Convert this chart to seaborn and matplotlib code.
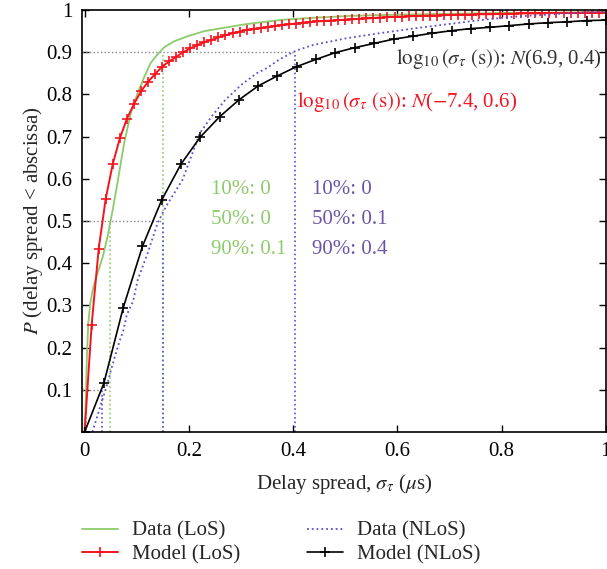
import matplotlib
matplotlib.use('Agg')
import matplotlib.pyplot as plt
import seaborn as sns

model_los_x = [0.0, 0.0135, 0.027, 0.0405, 0.054, 0.0676, 0.0811, 0.0946, 0.1081, 0.1216,
               0.1351, 0.1486, 0.1622, 0.1757, 0.1892, 0.2027, 0.2162, 0.2297, 0.2432, 0.2568,
               0.2703, 0.2838, 0.2973, 0.3108, 0.3243, 0.3378, 0.3514, 0.3649, 0.3784, 0.3919,
               0.4054, 0.4189, 0.4324, 0.4459, 0.4595, 0.473, 0.4865, 0.5, 0.5135, 0.527,
               0.5405, 0.5541, 0.5676, 0.5811, 0.5946, 0.6081, 0.6216, 0.6351, 0.6486, 0.6622,
               0.6757, 0.6892, 0.7027, 0.7162, 0.7297, 0.7432, 0.7568, 0.7703, 0.7838, 0.7973,
               0.8108, 0.8243, 0.8378, 0.8514, 0.8649, 0.8784, 0.8919, 0.9054, 0.9189, 0.9324,
               0.9459, 0.9595, 0.973, 0.9865, 1.0]
model_los_y = [0.0, 0.254, 0.434, 0.553, 0.635, 0.696, 0.742, 0.777, 0.807, 0.830,
               0.848, 0.866, 0.878, 0.889, 0.900, 0.909, 0.917, 0.924, 0.929, 0.935,
               0.940, 0.945, 0.949, 0.953, 0.955, 0.957, 0.959, 0.962, 0.964, 0.966,
               0.968, 0.970, 0.971, 0.973, 0.974, 0.975, 0.976, 0.977, 0.978, 0.979,
               0.980, 0.981, 0.982, 0.983, 0.984, 0.984, 0.985, 0.986, 0.986, 0.987,
               0.987, 0.988, 0.988, 0.989, 0.989, 0.989, 0.990, 0.990, 0.990, 0.991,
               0.991, 0.991, 0.992, 0.992, 0.992, 0.992, 0.993, 0.993, 0.993, 0.993,
               0.993, 0.994, 0.994, 0.994, 0.994]

# Model (NLoS)
model_nlos_x = [0.0, 0.037, 0.074, 0.111, 0.148, 0.185, 0.222, 0.259, 0.296, 0.333,
                0.370, 0.407, 0.444, 0.481, 0.519, 0.556, 0.593, 0.630, 0.667, 0.704,
                0.741, 0.778, 0.815, 0.852, 0.889, 0.926, 0.963, 1.0]
model_nlos_y = [0.0, 0.116, 0.294, 0.440, 0.550, 0.635, 0.699, 0.747, 0.787, 0.820,
                0.844, 0.866, 0.883, 0.899, 0.911, 0.921, 0.931, 0.938, 0.945, 0.951,
                0.956, 0.959, 0.963, 0.967, 0.970, 0.972, 0.975, 0.976]

# Data (LoS) - empirical CDF
data_los_x = [0.0, 0.0025, 0.0044, 0.007, 0.011, 0.017, 0.025, 0.035, 0.044, 0.054,
              0.063, 0.076, 0.089, 0.102, 0.115, 0.127, 0.140, 0.153, 0.172, 0.198,
              0.230, 0.268, 0.307, 0.332, 0.381, 0.445, 0.509, 0.6, 0.7, 0.8, 0.9, 1.0]
data_los_y = [0.0, 0.085, 0.18, 0.258, 0.306, 0.345, 0.377, 0.416, 0.463, 0.527,
              0.59, 0.686, 0.757, 0.804, 0.843, 0.875, 0.895, 0.912, 0.926, 0.938,
              0.950, 0.958, 0.966, 0.970, 0.977, 0.982, 0.986, 0.989, 0.991, 0.993, 0.994, 0.995]

# Data (NLoS) - empirical CDF
data_nlos_x = [0.015, 0.025, 0.035, 0.045, 0.051, 0.061, 0.067, 0.074, 0.081, 0.093,
               0.102, 0.121, 0.140, 0.156, 0.188, 0.207, 0.221, 0.245, 0.27, 0.30,
               0.33, 0.349, 0.374, 0.406, 0.438, 0.470, 0.502, 0.566, 0.630, 0.694,
               0.758, 0.822, 0.886, 0.950, 1.0]
data_nlos_y = [0.0, 0.04, 0.08, 0.120, 0.148, 0.191, 0.215, 0.239, 0.278, 0.310,
               0.361, 0.424, 0.495, 0.534, 0.598, 0.661, 0.708, 0.75, 0.787, 0.822,
               0.850, 0.862, 0.883, 0.904, 0.917, 0.925, 0.933, 0.945, 0.956, 0.966,
               0.976, 0.984, 0.989, 0.994, 0.996]

# percentiles (10%, 50%, 90%)
levels = [0.1, 0.5, 0.9]
los_pct = [0.002, 0.049, 0.150]
nlos_pct = [0.034, 0.150, 0.403]
los_pct_txt = ['0', '0', '0.1']
nlos_pct_txt = ['0', '0.1', '0.4']

GREEN = '#8ccb6a'
RED = '#f5141e'
BLUE = '#5b4fd0'
PURPLE = '#6b54a8'
FS = 15

sns.set_theme(style='ticks')
plt.rcParams['font.family'] = ['Liberation Serif', 'DejaVu Serif']
plt.rcParams['mathtext.fontset'] = 'stix'
plt.rcParams['font.size'] = FS

fig = plt.figure(figsize=(6.07, 5.69), dpi=100)
ax = fig.add_axes([0.1351, 0.2408, 0.8629, 0.7416])

# percentile guide lines
ax.hlines(levels, -0.005, nlos_pct, colors='#888888', linestyles=':', linewidth=1)
ax.vlines(los_pct, 0, levels, colors=GREEN, linestyles=':', linewidth=1.2)
ax.vlines(nlos_pct, 0, levels, colors=BLUE, linestyles=':', linewidth=1.2)

sns.lineplot(x=data_los_x, y=data_los_y, ax=ax, color=GREEN, linewidth=1.3,
             label='Data (LoS)')
sns.lineplot(x=model_los_x, y=model_los_y, ax=ax, color=RED, linewidth=1.4,
             marker='+', markersize=7, markeredgewidth=1.2, markeredgecolor=RED,
             label='Model (LoS)')
sns.lineplot(x=data_nlos_x, y=data_nlos_y, ax=ax, color=BLUE, linewidth=1.3,
             linestyle=':', label='Data (NLoS)')
sns.lineplot(x=model_nlos_x, y=model_nlos_y, ax=ax, color='black', linewidth=1.2,
             marker='+', markersize=7, markeredgewidth=1.2, markeredgecolor='black',
             label='Model (NLoS)')

# percentile texts
for i, lv in enumerate(['10%', '50%', '90%']):
    ty = 0.574 - i * 0.071
    ax.text(0.243, ty, f'{lv}: {los_pct_txt[i]}', color=GREEN, fontsize=FS, va='center')
    ax.text(0.437, ty, f'{lv}: {nlos_pct_txt[i]}', color=PURPLE, fontsize=FS, va='center')

ax.text(0.993, 0.885, r'$\log_{10}(\sigma_\tau\ (\mathrm{s}))$: $N$(6.9, 0.4)',
        color='#333333', fontsize=FS, ha='right', va='center')
ax.text(0.408, 0.782, r'$\log_{10}(\sigma_\tau\ (\mathrm{s}))$: $N$($-$7.4, 0.6)',
        color=RED, fontsize=FS, ha='left', va='center')

ax.set_xlim(-0.005, 1.0)
ax.set_ylim(0, 1)
ax.set_xticks([0, 0.2, 0.4, 0.6, 0.8, 1.0])
ax.set_xticklabels(['0', '0.2', '0.4', '0.6', '0.8', '1'])
ax.set_yticks([0.1, 0.2, 0.3, 0.4, 0.5, 0.6, 0.7, 0.8, 0.9, 1.0])
ax.set_yticklabels(['0.1', '0.2', '0.3', '0.4', '0.5', '0.6', '0.7', '0.8', '0.9', '1'])
ax.tick_params(direction='in', top=True, right=True, length=5, width=1,
               labelsize=FS, colors='black', pad=7)
for sp in ax.spines.values():
    sp.set_color('black')
    sp.set_linewidth(1.2)

ax.set_xlabel(r'Delay spread, $\sigma_\tau$ ($\mu$s)', fontsize=FS, labelpad=8)
ax.set_ylabel(r'$P$ (delay spread < abscissa)', fontsize=FS, labelpad=1)

handles, labels = ax.get_legend_handles_labels()
ax.get_legend().remove()
fig.legend(handles, labels, ncol=2, loc='upper left', bbox_to_anchor=(0.108, 0.113),
           frameon=False, fontsize=FS, handlelength=1.7, handletextpad=0.7,
           columnspacing=3.2, labelspacing=0.2, borderpad=0.3)

fig.savefig('out.png', dpi=100)
